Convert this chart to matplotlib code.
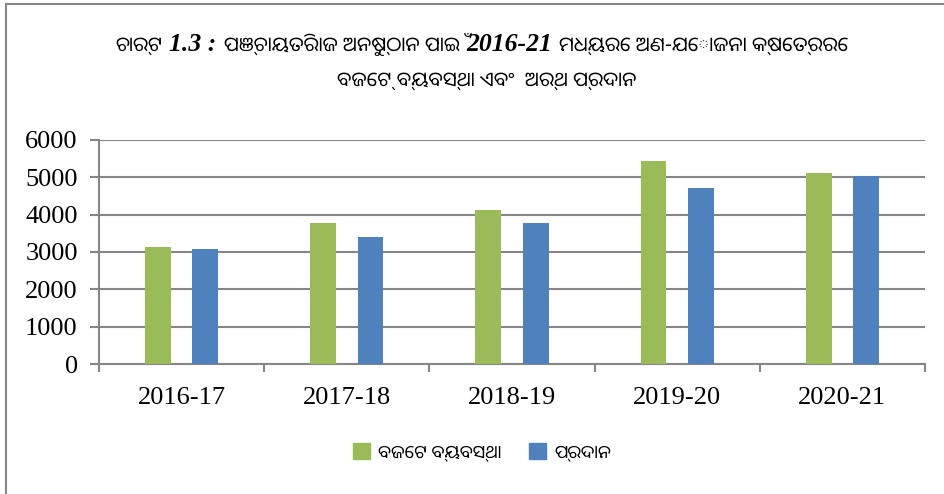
import numpy as np
import matplotlib
matplotlib.use("Agg")
import matplotlib.pyplot as plt
from matplotlib.lines import Line2D
from matplotlib.patches import Patch
from matplotlib.offsetbox import TextArea, HPacker, AnnotationBbox

# ── Data ─────────────────────────────────────────────────────────────────────
years = ["2016-17", "2017-18", "2018-19", "2019-20", "2020-21"]
budget = [3135, 3785, 4130, 5430, 5105]      # ବଜେଟ ବ୍ୟବସ୍ଥା
release = [3090, 3410, 3775, 4710, 5020]     # ପ୍ରଦାନ

labels = ["ବଜେଟ ବ୍ୟବସ୍ଥା", "ପ୍ରଦାନ"]
# title pieces: (text, is_latin)
title_1 = [("ଚାର୍ଟ", False), ("1.3 :", True), ("ପଞ୍ଚାୟତିରାଜ ଅନୁଷ୍ଠାନ ପାଇଁ", False),
           ("2016-21", True), ("ମଧ୍ୟରେ ଅଣ-ଯୋଜନା କ୍ଷେତ୍ରରେ", False)]
title_2 = [("ବଜେଟ୍ ବ୍ୟବସ୍ଥା ଏବଂ  ଅର୍ଥ ପ୍ରଦାନ", False)]

C_GREEN = "#9bbb59"
C_BLUE = "#4f81bd"
C_GRID = "#868686"
SERIF = ["Liberation Serif", "DejaVu Serif"]
ODIA = ["Noto Sans Oriya", "DejaVu Sans"]

fig = plt.figure(figsize=(9.45, 4.94), dpi=100)
ax = fig.add_axes([99.3 / 945, 1 - 364.3 / 494, (924.7 - 99.3) / 945, (364.3 - 139.7) / 494])

x = np.arange(len(years))
bw = 0.157
off = 0.143
ax.bar(x - off, budget, bw, color=C_GREEN, zorder=3)
ax.bar(x + off, release, bw, color=C_BLUE, zorder=3)

ax.set_xlim(-0.5, len(years) - 0.5)
ax.set_ylim(0, 6000)
ax.set_yticks(range(0, 6001, 1000))
ax.yaxis.grid(True, color=C_GRID, lw=1.5, zorder=0)
ax.set_axisbelow(True)

# category boundary ticks
ax.set_xticks(np.arange(-0.5, len(years), 1.0), minor=False)
ax.set_xticklabels([])
ax.set_xticks(x, minor=True)
ax.set_xticklabels(years, minor=True, fontsize=19, family=SERIF)
ax.tick_params(axis="x", which="major", length=6, width=1.5, color=C_GRID)
ax.tick_params(axis="x", which="minor", length=0, pad=16)
ax.tick_params(axis="y", length=6.5, width=1.5, color=C_GRID, labelsize=19, pad=9)
for t in ax.get_yticklabels():
    t.set_family(SERIF)

for s in ["top", "right"]:
    ax.spines[s].set_visible(False)
for s in ["left", "bottom"]:
    ax.spines[s].set_color(C_GRID)
    ax.spines[s].set_linewidth(1.5)


# ── Title (Latin parts bold italic serif, Odia parts sans) ──────────────────
def title_line(pieces, xc, yc):
    kids = []
    for txt, latin in pieces:
        if latin:
            props = dict(family=SERIF, size=18.5, weight="bold", style="italic")
        else:
            props = dict(family=ODIA, size=14.5, style="italic")
        kids.append(TextArea(txt, textprops=props))
    box = HPacker(children=kids, align="baseline", pad=0, sep=5)
    ab = AnnotationBbox(box, (xc, yc), xycoords="figure fraction", frameon=False,
                        box_alignment=(0.5, 0.5), pad=0)
    fig.add_artist(ab)


title_line(title_1, 482 / 945, 1 - 44 / 494)
title_line(title_2, 487 / 945, 1 - 81 / 494)

# ── Legend ───────────────────────────────────────────────────────────────────
handles = [Patch(color=C_GREEN), Patch(color=C_BLUE)]
fig.legend(handles, labels, loc="center", bbox_to_anchor=(482 / 945, 1 - 452 / 494),
           ncol=2, frameon=False, prop={"family": ODIA, "size": 13},
           handlelength=0.95, handleheight=0.95, handletextpad=0.45, columnspacing=1.55)

# ── Outer frame (left and top only) ──────────────────────────────────────────
fig.add_artist(Line2D([6.5 / 945, 6.5 / 945], [0, 1 - 4 / 494], color=C_GRID, lw=1.5))
fig.add_artist(Line2D([6.5 / 945, 1], [1 - 4 / 494, 1 - 4 / 494], color=C_GRID, lw=1.5))

fig.savefig("out.png", dpi=100)
